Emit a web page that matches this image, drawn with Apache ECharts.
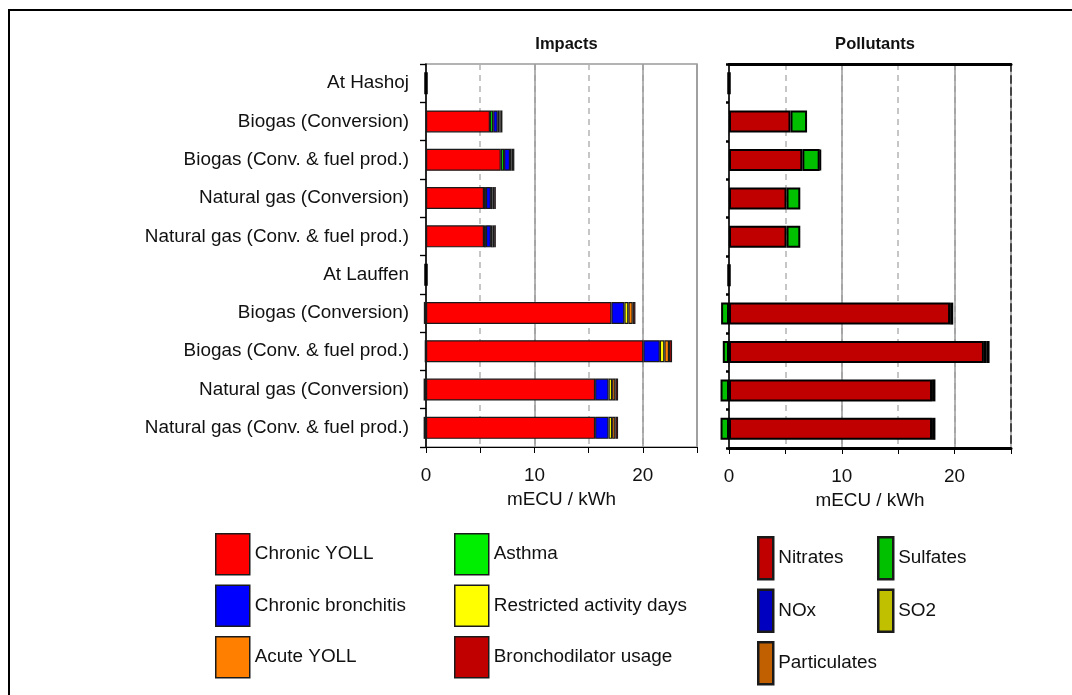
<!DOCTYPE html>
<html>
<head>
<meta charset="utf-8">
<script src="https://cdn.jsdelivr.net/npm/echarts@6/dist/echarts.min.js"></script>
<style>
  html, body { margin: 0; padding: 0; background: #fff; }
  #chart { width: 1072px; height: 695px; }
</style>
</head>
<body>
<div id="chart"></div>
<script>
// Row labels, top to bottom
const categories = [
  'At Hashoj',
  'Biogas (Conversion)',
  'Biogas (Conv. & fuel prod.)',
  'Natural gas (Conversion)',
  'Natural gas (Conv. & fuel prod.)',
  'At Lauffen',
  'Biogas (Conversion)',
  'Biogas (Conv. & fuel prod.)',
  'Natural gas (Conversion)',
  'Natural gas (Conv. & fuel prod.)'
];

// Impacts, mECU / kWh
const chronicYoll   = [0, 5.9, 6.9, 5.35, 5.35, 0, 17.1, 20.05, 15.6, 15.6];
const asthma        = [null, 0.3, 0.3, 0.18, 0.18, null, -0.2, -0.12, -0.22, -0.22];
const chronicBronch = [null, 0.42, 0.55, 0.46, 0.46, null, 1.2, 1.52, 1.24, 1.24];
const restricted    = [null, 0.15, 0.15, 0.15, 0.15, null, 0.37, 0.42, 0.33, 0.33];
const acuteYoll     = [null, 0.12, 0.13, 0.15, 0.15, null, 0.4, 0.43, 0.3, 0.3];
const bronchodil    = [null, 0.16, 0.12, 0.15, 0.15, null, 0.25, 0.28, 0.25, 0.25];

// Pollutants, mECU / kWh
const nitrates      = [0, 5.45, 6.5, 5.1, 5.1, 0, 19.6, 22.6, 18.0, 18.0];
const sulfates      = [null, 1.47, 1.54, 1.22, 1.22, null, -0.7, -0.55, -0.75, -0.75];
const nox           = [null, null, null, null, null, null, 0.28, 0.2, 0.3, 0.3];
const so2           = [null, null, null, null, null, null, null, null, null, null];
const particulates  = [null, null, 0.1, null, null, null, null, 0.3, null, null];

const xTicks = { min: 0, max: 25, minor: 5, major: 10 };

const FONT = "'Liberation Sans', Arial, sans-serif";
const FS = 18.9;
const TXT = '#111';

const impactSeries = [
  ['Chronic YOLL', chronicYoll, '#ff0000'],
  ['Asthma', asthma, '#00ee00'],
  ['Chronic bronchitis', chronicBronch, '#0000ff'],
  ['Restricted activity days', restricted, '#ffff00'],
  ['Acute YOLL', acuteYoll, '#ff8000'],
  ['Bronchodilator usage', bronchodil, '#c00000']
];
const pollutantSeries = [
  ['Nitrates', nitrates, '#c00000'],
  ['Sulfates', sulfates, '#00c000'],
  ['NOx', nox, '#0000c0'],
  ['SO2', so2, '#c0c000'],
  ['Particulates', particulates, '#c06000']
];

function valueAxis(gridIndex, opts) {
  return Object.assign({
    type: 'value', gridIndex: gridIndex,
    min: xTicks.min, max: xTicks.max, interval: xTicks.minor,
    axisLine: { show: true, onZero: false, lineStyle: { color: '#000', width: 1 } },
    axisTick: { show: true, length: 6, lineStyle: { color: '#000', width: 1 } },
    axisLabel: {
      show: true, margin: 19, fontSize: FS, fontFamily: FONT, color: TXT,
      formatter: v => (v % xTicks.major === 0 ? String(v) : '')
    },
    splitLine: { show: true, lineStyle: { color: '#b4b4b4', width: 1.5, type: [6, 5] } },
    name: 'mECU / kWh', nameLocation: 'middle', nameGap: 40,
    nameTextStyle: { fontSize: FS, fontFamily: FONT, color: TXT }
  }, opts);
}
function majorGridAxis(gridIndex) {
  return {
    type: 'value', gridIndex: gridIndex,
    min: xTicks.min, max: xTicks.max, interval: xTicks.major,
    axisLine: { show: false }, axisTick: { show: false }, axisLabel: { show: false },
    splitLine: { show: true, lineStyle: { color: '#9a9a9a', width: 1.5 } }
  };
}
function catAxis(gridIndex, opts) {
  return Object.assign({
    type: 'category', gridIndex: gridIndex, data: categories, inverse: true,
    axisLine: { show: false }, axisTick: { show: false }, axisLabel: { show: false },
    splitLine: { show: false }
  }, opts);
}

// Zero-valued heading rows keep a heavy outline so they show as a stub on the axis
function withStubs(data) {
  return data.map(v => (v === 0
    ? { value: 0, itemStyle: { borderWidth: 3.5, borderColor: '#000' } }
    : v));
}

const series = [];
impactSeries.forEach(([name, data, color]) => {
  series.push({
    name, type: 'bar', stack: 'impacts', xAxisIndex: 0, yAxisIndex: 0,
    data: withStubs(data), barWidth: 22, clip: false,
    itemStyle: { color, borderColor: '#1a1a1a', borderWidth: 1.2 }
  });
});
pollutantSeries.forEach(([name, data, color]) => {
  series.push({
    name, type: 'bar', stack: 'pollutants', xAxisIndex: 2, yAxisIndex: 2,
    data: withStubs(data), barWidth: 22, clip: false,
    itemStyle: { color, borderColor: '#000', borderWidth: 2 }
  });
});

const legendText = { fontSize: FS, fontFamily: FONT, color: TXT };
function legendCol(names, left, top, w, h, gap, bw) {
  return {
    data: names, orient: 'vertical', left, top, itemWidth: w, itemHeight: h,
    itemGap: gap, icon: 'rect', selectedMode: false, padding: 0,
    itemStyle: { borderColor: '#1a1a1a', borderWidth: bw },
    textStyle: legendText
  };
}

const option = {
  animation: false,
  backgroundColor: '#fff',
  title: [
    { text: 'Impacts', left: 561.5, top: 31, textAlign: 'center',
      textStyle: { fontSize: 16.5, fontWeight: 'bold', fontFamily: FONT, color: TXT } },
    { text: 'Pollutants', left: 870, top: 31, textAlign: 'center',
      textStyle: { fontSize: 16.5, fontWeight: 'bold', fontFamily: FONT, color: TXT } }
  ],
  grid: [
    { left: 426, top: 64, width: 271, height: 383, show: true, borderColor: '#9a9a9a', borderWidth: 1.5, backgroundColor: 'transparent' },
    { left: 729, top: 64, width: 282, height: 384 }
  ],
  xAxis: [
    valueAxis(0),
    majorGridAxis(0),
    valueAxis(1, { axisLine: { show: true, onZero: false, lineStyle: { color: '#000', width: 3 } } }),
    majorGridAxis(1),
    { type: 'value', gridIndex: 1, position: 'top', min: xTicks.min, max: xTicks.max,
      axisLine: { show: true, onZero: false, lineStyle: { color: '#000', width: 3 } },
      axisTick: { show: false }, axisLabel: { show: false }, splitLine: { show: false } }
  ],
  yAxis: [
    catAxis(0, {
      axisLine: { show: true, onZero: false, lineStyle: { color: '#000', width: 1.5 } },
      axisTick: { show: true, length: 6, lineStyle: { color: '#000', width: 1.2 } },
      axisLabel: { show: true, margin: 17, fontSize: FS, fontFamily: FONT, color: TXT }
    }),
    catAxis(0, { axisTick: { show: true, inside: true, length: 6, lineStyle: { color: '#000', width: 1.2 } } }),
    catAxis(1, {
      axisLine: { show: true, onZero: false, lineStyle: { color: '#000', width: 1.5 } },
      axisTick: { show: true, length: 3, lineStyle: { color: '#000', width: 2.5 } }
    }),
    catAxis(1, { axisTick: { show: true, inside: true, length: 3, lineStyle: { color: '#000', width: 2.5 } } }),
    catAxis(1, { position: 'right',
      axisLine: { show: true, onZero: false, lineStyle: { color: '#444', width: 2, type: [7, 5] } } })
  ],
  legend: [
    legendCol(['Chronic YOLL', 'Chronic bronchitis', 'Acute YOLL'], 215, 533, 34, 41, 9, 1.5),
    legendCol(['Asthma', 'Restricted activity days', 'Bronchodilator usage'], 454, 533, 34, 41, 9, 1.5),
    legendCol(['Nitrates', 'NOx', 'Particulates'], 757, 536, 15, 42, 8, 2.5),
    legendCol(['Sulfates', 'SO2'], 877, 536, 15, 42, 8, 2.5)
  ],
  graphic: [
    { type: 'polyline', silent: true,
      shape: { points: [[9, 695], [9, 10], [1072, 10]] },
      style: { stroke: '#000', lineWidth: 2, fill: null } }
  ],
  series
};

const chart = echarts.init(document.getElementById('chart'), null, { renderer: 'canvas' });
chart.setOption(option);
</script>
</body>
</html>
